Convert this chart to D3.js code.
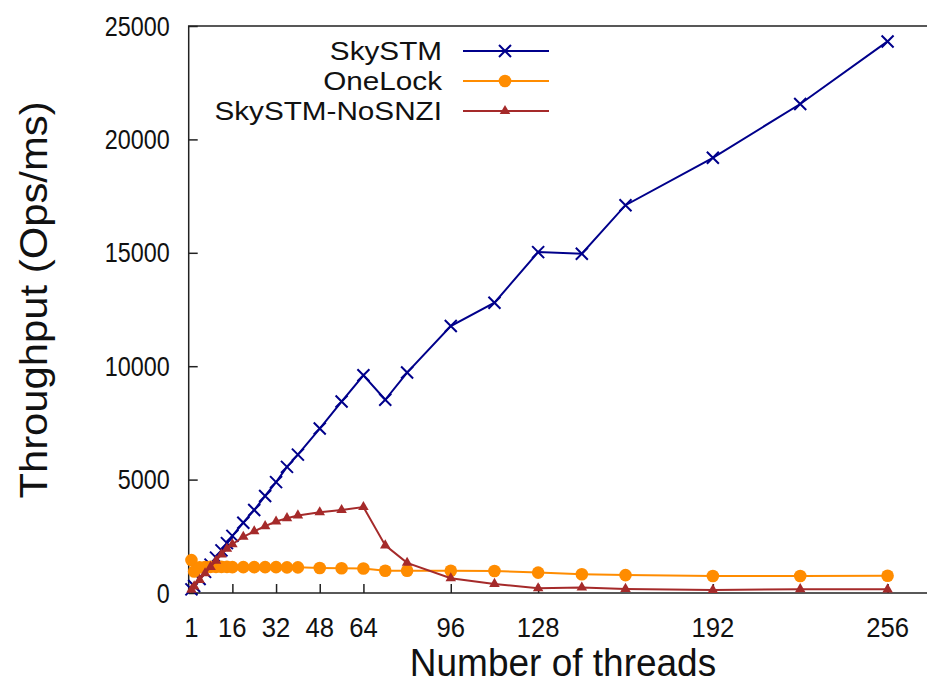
<!DOCTYPE html>
<html>
<head>
<meta charset="utf-8">
<script src="https://cdn.jsdelivr.net/npm/d3@7"></script>
<style>
  body { margin: 0; background: #fff; }
  svg { display: block; font-family: "Liberation Sans", Arial, sans-serif; }
</style>
</head>
<body>
<svg id="chart" width="927" height="684"></svg>
<script>
// thread counts on the x axis
const threads = [1, 2, 4, 6, 8, 10, 12, 14, 16, 20, 24, 28, 32, 36, 40, 48, 56, 64,
                 72, 80, 96, 112, 128, 144, 160, 192, 224, 256];

const skystm = [160, 310, 620, 930, 1250, 1560, 1880, 2200, 2520, 3100, 3660, 4280, 4890, 5560, 6100, 7250, 8440, 9600,
                8520, 9720, 11770, 12800, 15030, 14960, 17100, 19190, 21560, 24320];
const onelock = [1450, 950, 1130, 1140, 1150, 1150, 1150, 1150, 1140, 1140, 1140, 1140, 1140, 1130, 1130, 1100, 1090, 1080,
                 980, 980, 980, 970, 900, 830, 790, 750, 750, 760];
const nosnzi = [140, 290, 580, 870, 1150, 1420, 1700, 1950, 2150, 2480, 2720, 2950, 3150, 3300, 3420, 3560, 3660, 3790,
                2100, 1330, 650, 400, 210, 240, 180, 130, 170, 160];

const xTicks = [1, 16, 32, 48, 64, 96, 128, 192, 256];
const yTicks = [0, 5000, 10000, 15000, 20000, 25000];

const seriesNames = ['SkySTM', 'OneLock', 'SkySTM-NoSNZI'];
const seriesColors = ['#00008b', '#ff8c00', '#a52a2a'];
const seriesData = [skystm, onelock, nosnzi];

const svg = d3.select('#chart');

// plot frame: left 188.7, bottom 593, top 26 ; right side runs off the picture
const x = d3.scaleLinear().domain([0, 275]).range([188.7, 188.7 + 275 * 2.73]);
const y = d3.scaleLinear().domain([0, 25000]).range([593, 26]);

svg.append('rect')
  .attr('x', x(0)).attr('y', y(25000))
  .attr('width', x(275) - x(0)).attr('height', y(0) - y(25000))
  .attr('fill', 'none').attr('stroke', '#222').attr('stroke-width', 1.5);

// y axis, ticks pointing inward
const yAxis = svg.append('g').attr('transform', `translate(${x(0)},0)`)
  .call(d3.axisRight(y).tickValues(yTicks).tickSize(9).tickFormat(''));
yAxis.select('.domain').remove();
yAxis.selectAll('line').attr('stroke', '#222').attr('stroke-width', 1.5);

// labels are a bit taller than wide in the original
svg.append('g').selectAll('text').data(yTicks).join('text')
  .attr('transform', d => `translate(${x(0) - 19},${y(d)}) scale(0.9,1.05)`)
  .attr('dy', '0.35em').attr('text-anchor', 'end')
  .attr('font-size', 26).attr('fill', '#111')
  .text(d => d);

// x axis, ticks pointing up
const xAxis = svg.append('g').attr('transform', `translate(0,${y(0)})`)
  .call(d3.axisTop(x).tickValues(xTicks).tickSize(9).tickFormat(''));
xAxis.select('.domain').remove();
xAxis.selectAll('line').attr('stroke', '#222').attr('stroke-width', 1.5);

svg.append('g').selectAll('text').data(xTicks).join('text')
  .attr('transform', d => `translate(${x(d)},${y(0) + 44}) scale(0.95,1.05)`)
  .attr('text-anchor', 'middle')
  .attr('font-size', 27).attr('fill', '#111')
  .text(d => d);

// axis titles
svg.append('text')
  .attr('transform', 'translate(563,676) scale(1,1.05)')
  .attr('text-anchor', 'middle').attr('font-size', 37).attr('fill', '#111')
  .text('Number of threads');

svg.append('text')
  .attr('transform', 'translate(47,300) rotate(-90) scale(1.1,1)')
  .attr('text-anchor', 'middle').attr('font-size', 38).attr('fill', '#111')
  .text('Throughput (Ops/ms)');

// marker shapes
const tri = d3.symbol().type(d3.symbolTriangle).size(48);
function drawMarker(g, kind, color) {
  if (kind === 0) {
    g.append('path').attr('d', 'M-6,-6L6,6M-6,6L6,-6')
      .attr('stroke', color).attr('stroke-width', 2).attr('fill', 'none');
  } else if (kind === 1) {
    g.append('circle').attr('r', 6.3).attr('fill', color);
  } else {
    g.append('path').attr('d', tri()).attr('fill', color);
  }
}

const line = d3.line().x(d => x(d[0])).y(d => y(d[1]));

seriesData.forEach((vals, i) => {
  const pts = threads.map((t, j) => [t, vals[j]]);
  const g = svg.append('g');
  g.append('path').datum(pts)
    .attr('d', line).attr('fill', 'none')
    .attr('stroke', seriesColors[i]).attr('stroke-width', 2);
  pts.forEach(p => {
    const m = g.append('g').attr('transform', `translate(${x(p[0])},${y(p[1])})`);
    drawMarker(m, i, seriesColors[i]);
  });
});

// legend
const legendY = [51, 81, 111];
seriesNames.forEach((name, i) => {
  const lg = svg.append('g');
  lg.append('text').attr('transform', `translate(442,${legendY[i]}) scale(1.1,0.96)`).attr('dy', '0.35em')
    .attr('text-anchor', 'end').attr('font-size', 27).attr('fill', '#111')
    .text(name);
  lg.append('line').attr('x1', 463).attr('x2', 549)
    .attr('y1', legendY[i]).attr('y2', legendY[i])
    .attr('stroke', seriesColors[i]).attr('stroke-width', 2);
  const m = lg.append('g').attr('transform', `translate(505,${legendY[i]})`);
  drawMarker(m, i, seriesColors[i]);
});
</script>
</body>
</html>
